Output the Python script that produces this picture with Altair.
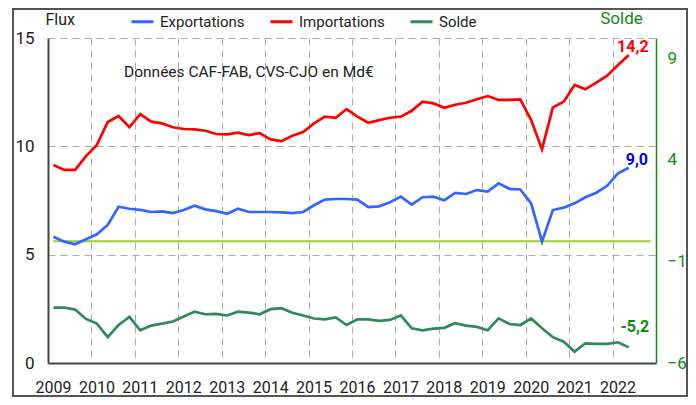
import altair as alt
import pandas as pd

trimestres = [f"{y}T{q}" for y in range(2009, 2023) for q in range(1, 5)][:54]

exportations = [
    5.83, 5.60, 5.48, 5.71, 5.94, 6.37, 7.21, 7.12, 7.07, 6.97,
    7.00, 6.92, 7.06, 7.26, 7.09, 7.01, 6.89, 7.12, 6.97, 6.97,
    6.97, 6.95, 6.92, 6.97, 7.28, 7.54, 7.57, 7.57, 7.54, 7.20,
    7.23, 7.42, 7.68, 7.31, 7.65, 7.68, 7.51, 7.85, 7.80, 7.98,
    7.91, 8.29, 8.04, 8.01, 7.37, 5.60, 7.06, 7.17, 7.37, 7.65,
    7.86, 8.18, 8.75, 9.01,
]
importations = [
    9.14, 8.91, 8.91, 9.55, 10.06, 11.12, 11.40, 10.88, 11.49, 11.14,
    11.06, 10.88, 10.80, 10.78, 10.72, 10.57, 10.55, 10.63, 10.52, 10.61,
    10.32, 10.24, 10.49, 10.66, 11.06, 11.37, 11.32, 11.72, 11.37, 11.09,
    11.21, 11.32, 11.37, 11.64, 12.06, 11.98, 11.78, 11.92, 12.01, 12.17,
    12.32, 12.14, 12.14, 12.17, 11.21, 9.86, 11.80, 12.06, 12.83, 12.63,
    12.94, 13.26, 13.75, 14.21,
]
solde = [
    -3.27, -3.27, -3.37, -3.83, -4.06, -4.73, -4.13, -3.73, -4.39, -4.16,
    -4.06, -3.96, -3.71, -3.47, -3.60, -3.58, -3.66, -3.47, -3.52, -3.60,
    -3.35, -3.30, -3.53, -3.66, -3.81, -3.85, -3.76, -4.13, -3.85, -3.85,
    -3.93, -3.88, -3.66, -4.29, -4.39, -4.31, -4.27, -4.04, -4.16, -4.22,
    -4.39, -3.80, -4.08, -4.13, -3.81, -4.29, -4.73, -4.95, -5.44, -5.03,
    -5.06, -5.06, -4.98, -5.23,
]
series_names = ["Exportations", "Importations", "Solde"]
series_colors = ["#3366ff", "#ff0000", "#2e8b57"]
zero_span = ["2009T1", "2022T4"]
year_ticks = list(range(2009, 2023))
flux_ticks = [0, 5, 10, 15]
solde_ticks = [-6, -1, 4, 9]
note = "Données CAF-FAB, CVS-CJO en Md€"


def pos(tr):
    y, q = tr.split("T")
    return int(y) + (int(q) - 0.5) / 4


def lab(v):
    return f"{v:.1f}".replace(".", ",")


t = [pos(s) for s in trimestres]
df_flux = pd.DataFrame(
    {"t": t * 2,
     "v": exportations + importations,
     "serie": ["Exportations"] * len(t) + ["Importations"] * len(t)}
)
df_solde = pd.DataFrame({"t": t, "v": solde, "serie": "Solde"})
df_zero = pd.DataFrame({"x": [pos(zero_span[0])], "x2": [pos(zero_span[1])], "y": [0]})
df_end_exp = pd.DataFrame({"t": [t[-1]], "v": [exportations[-1]], "lab": [lab(exportations[-1])]})
df_end_imp = pd.DataFrame({"t": [t[-1]], "v": [importations[-1]], "lab": [lab(importations[-1])]})
df_end_sol = pd.DataFrame({"t": [t[-1]], "v": [solde[-1]], "lab": [lab(solde[-1])]})

FONT = "Roboto"
W, H = 608, 325
GREEN_TXT = "#128a12"

xscale = alt.Scale(domain=[2009, 2023], nice=False, zero=False)
xaxis = alt.Axis(values=year_ticks, format="d", title=None, ticks=False,
                 labelFontSize=16, labelOffset=5, labelPadding=16, labelColor="#222",
                 labelFlush=False, labelOverlap=False,
                 grid=True, gridDash=[7, 5], gridColor="#aaaaaa", gridWidth=1,
                 domainColor="#444444", domainWidth=2)
X = alt.X("t:Q", scale=xscale, axis=xaxis)

yl_scale = alt.Scale(domain=[0, 15], nice=False, zero=False)
yl_axis = alt.Axis(values=flux_ticks, orient="left", title="Flux", titleAngle=0,
                   titleX=-3, titleY=-19, titleAlign="left", titleBaseline="middle",
                   titleFontSize=16, titleFontWeight="normal", titleColor="#222",
                   ticks=False, labelFontSize=17, labelPadding=14, labelColor="#222",
                   grid=True, gridDash=[7, 5], gridColor="#aaaaaa", gridWidth=1,
                   domainColor="#444444", domainWidth=2)
yr_scale = alt.Scale(domain=[-6, 10], nice=False, zero=False)
yr_axis = alt.Axis(values=solde_ticks, orient="right", title="Solde", titleAngle=0,
                   titleX=-35, titleY=-20, titleAlign="center", titleBaseline="middle",
                   titleFontSize=17, titleFontWeight="normal", titleColor=GREEN_TXT,
                   ticks=False, labelFontSize=17, labelPadding=11, labelColor=GREEN_TXT,
                   grid=False, domainColor=GREEN_TXT, domainWidth=1.5)

color = alt.Color("serie:N", scale=alt.Scale(domain=series_names, range=series_colors),
                  legend=alt.Legend(title=None, orient="none", legendX=82, legendY=-29,
                                    direction="horizontal", symbolType="stroke",
                                    symbolSize=484, symbolStrokeWidth=3,
                                    labelFontSize=15, labelFont=FONT, labelColor="#222",
                                    labelOffset=5, columnPadding=19, padding=0))

zero = alt.Chart(df_zero).mark_rule(color="#9acd32", strokeWidth=2).encode(
    x=alt.X("x:Q", scale=xscale, axis=xaxis), x2="x2:Q",
    y=alt.Y("y:Q", scale=yr_scale, axis=yr_axis))
sol_line = alt.Chart(df_solde).mark_line(strokeWidth=2.7).encode(
    x=X, y=alt.Y("v:Q", scale=yr_scale, axis=yr_axis), color=color)
sol_text = alt.Chart(df_end_sol).mark_text(
    font=FONT, fontSize=16, fontWeight="bold", color="#0a8a0a",
    align="center", baseline="middle", dx=6, dy=-20).encode(
    x=X, y=alt.Y("v:Q", scale=yr_scale, axis=yr_axis), text="lab:N")
right = alt.layer(zero, sol_line, sol_text)

flux_line = alt.Chart(df_flux).mark_line(strokeWidth=2.7).encode(
    x=X, y=alt.Y("v:Q", scale=yl_scale, axis=yl_axis), color=color)
imp_text = alt.Chart(df_end_imp).mark_text(
    font=FONT, fontSize=16, fontWeight="bold", color="#ff0000",
    align="center", baseline="middle", dx=4, dy=-8).encode(
    x=X, y=alt.Y("v:Q", scale=yl_scale, axis=yl_axis), text="lab:N")
exp_text = alt.Chart(df_end_exp).mark_text(
    font=FONT, fontSize=16, fontWeight="bold", color="#0000ee",
    align="center", baseline="middle", dx=8, dy=-8).encode(
    x=X, y=alt.Y("v:Q", scale=yl_scale, axis=yl_axis), text="lab:N")
note_text = alt.Chart(pd.DataFrame({"txt": [note]})).mark_text(
    font=FONT, fontSize=15.5, color="#222", align="left", baseline="middle").encode(
    x=alt.value(76), y=alt.value(34), text="txt:N")

# decorative outer frame of the figure: the border of an invisible gradient legend
frame_helper = alt.Chart(pd.DataFrame({"s": [0, 1]})).mark_point(opacity=0).encode(
    x=alt.value(0), y=alt.value(0),
    stroke=alt.Stroke("s:Q",
                      scale=alt.Scale(range=["transparent", "transparent"]),
                      legend=alt.Legend(type="gradient", orient="none", direction="horizontal",
                                        legendX=-35, legendY=-29,
                                        gradientLength=674, gradientThickness=387,
                                        gradientStrokeColor="#555555", gradientStrokeWidth=2,
                                        labelOpacity=0, labelFontSize=1, title=None,
                                        padding=0)))

left = alt.layer(flux_line, imp_text, exp_text, note_text, frame_helper)

chart = alt.layer(right, left).resolve_scale(y="independent").properties(
    width=W, height=H,
    padding={"left": 40, "top": 30, "right": 32, "bottom": 34},
    autosize=alt.AutoSizeParams(type="none"),
).configure(font=FONT).configure_view(stroke=None)

chart.save("out.html", embed_options={"renderer": "svg", "actions": False})
